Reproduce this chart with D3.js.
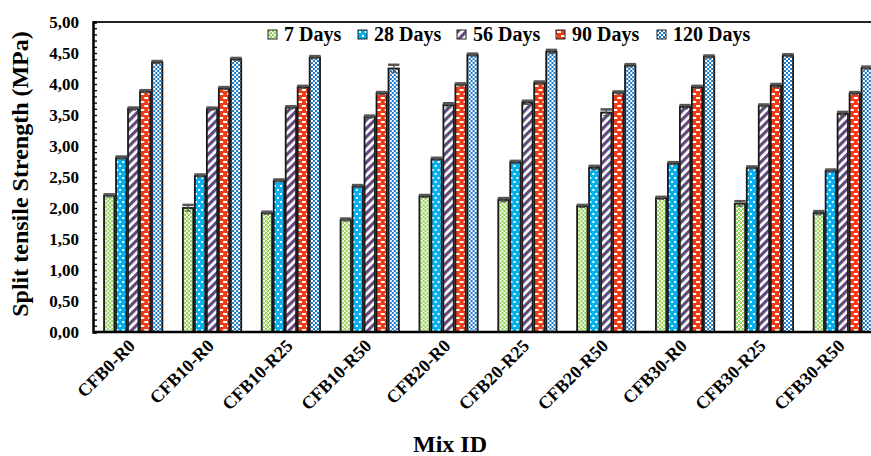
<!DOCTYPE html>
<html>
<head>
<meta charset="utf-8">
<script src="https://cdn.jsdelivr.net/npm/d3@7"></script>
<style>
  body { margin: 0; background: #fff; }
  text { font-family: "Liberation Serif", "Times New Roman", serif; font-weight: bold; }
</style>
</head>
<body>
<div id="chart"></div>
<script>
// data
var mixes = ["CFB0-R0", "CFB10-R0", "CFB10-R25", "CFB10-R50", "CFB20-R0",
             "CFB20-R25", "CFB20-R50", "CFB30-R0", "CFB30-R25", "CFB30-R50"];
var ages = ["7 Days", "28 Days", "56 Days", "90 Days", "120 Days"];
var days7   = [2.20, 2.00, 1.92, 1.81, 2.19, 2.13, 2.03, 2.16, 2.07, 1.92];
var days28  = [2.81, 2.52, 2.44, 2.35, 2.79, 2.74, 2.65, 2.72, 2.65, 2.60];
var days56  = [3.60, 3.60, 3.62, 3.47, 3.66, 3.70, 3.54, 3.63, 3.65, 3.52];
var days90  = [3.88, 3.93, 3.95, 3.85, 3.99, 4.02, 3.86, 3.95, 3.97, 3.85];
var days120 = [4.35, 4.40, 4.43, 4.25, 4.47, 4.52, 4.30, 4.44, 4.46, 4.26];
// error bars (small)
var err7   = [0.02, 0.05, 0.02, 0.02, 0.02, 0.03, 0.02, 0.02, 0.04, 0.03];
var err28  = [0.02, 0.02, 0.02, 0.02, 0.02, 0.02, 0.03, 0.02, 0.02, 0.02];
var err56  = [0.02, 0.02, 0.02, 0.02, 0.03, 0.03, 0.05, 0.03, 0.02, 0.03];
var err90  = [0.02, 0.02, 0.02, 0.02, 0.02, 0.02, 0.02, 0.02, 0.03, 0.02];
var err120 = [0.02, 0.02, 0.02, 0.06, 0.02, 0.03, 0.02, 0.02, 0.02, 0.02];
var yTicks = [0, 0.5, 1, 1.5, 2, 2.5, 3, 3.5, 4, 4.5, 5];

var series = [days7, days28, days56, days90, days120];
var errors = [err7, err28, err56, err90, err120];
var patIds = ["p7", "p28", "p56", "p90", "p120"];

var width = 871, height = 456;
var margin = {top: 22, left: 93, bottom: 332};

var svg = d3.select("#chart").append("svg")
    .attr("width", width)
    .attr("height", height);

// fill patterns like the excel ones
var defs = svg.append("defs");

var p = defs.append("pattern").attr("id", "p7").attr("patternUnits", "userSpaceOnUse")
    .attr("width", 4).attr("height", 4);
p.append("rect").attr("width", 4).attr("height", 4).attr("fill", "#fff");
p.append("rect").attr("x", 0).attr("y", 0).attr("width", 2).attr("height", 2).attr("fill", "#92D050");
p.append("rect").attr("x", 2).attr("y", 2).attr("width", 2).attr("height", 2).attr("fill", "#92D050");
p.append("rect").attr("x", 1).attr("y", 1).attr("width", 2).attr("height", 2).attr("fill", "#b5e08a");

p = defs.append("pattern").attr("id", "p28").attr("patternUnits", "userSpaceOnUse")
    .attr("width", 6).attr("height", 8);
p.append("rect").attr("width", 6).attr("height", 8).attr("fill", "#00B0F0");
p.append("rect").attr("x", 1).attr("y", 1).attr("width", 2).attr("height", 2).attr("fill", "#fff");
p.append("rect").attr("x", 4).attr("y", 5).attr("width", 2).attr("height", 2).attr("fill", "#fff");

p = defs.append("pattern").attr("id", "p56").attr("patternUnits", "userSpaceOnUse")
    .attr("width", 6).attr("height", 6).attr("patternTransform", "rotate(45)");
p.append("rect").attr("width", 6).attr("height", 6).attr("fill", "#fff");
p.append("rect").attr("width", 3.2).attr("height", 6).attr("fill", "#604A7B");

p = defs.append("pattern").attr("id", "p90").attr("patternUnits", "userSpaceOnUse")
    .attr("width", 8).attr("height", 8);
p.append("rect").attr("width", 8).attr("height", 8).attr("fill", "#F03C14");
p.append("rect").attr("x", 1).attr("y", 1).attr("width", 4).attr("height", 2).attr("fill", "#fff");
p.append("rect").attr("x", 5).attr("y", 5).attr("width", 4).attr("height", 2).attr("fill", "#fff");
p.append("rect").attr("x", -3).attr("y", 5).attr("width", 4).attr("height", 2).attr("fill", "#fff");

p = defs.append("pattern").attr("id", "p120").attr("patternUnits", "userSpaceOnUse")
    .attr("width", 4).attr("height", 4);
p.append("rect").attr("width", 4).attr("height", 4).attr("fill", "#fff");
p.append("rect").attr("x", 0).attr("y", 0).attr("width", 2).attr("height", 2).attr("fill", "#1878C8");
p.append("rect").attr("x", 2).attr("y", 2).attr("width", 2).attr("height", 2).attr("fill", "#1878C8");

// scales
var x = d3.scaleBand()
    .domain(mixes)
    .range([margin.left, margin.left + 790])
    .paddingInner(0.24)
    .paddingOuter(0.13);

var xAge = d3.scaleBand()
    .domain(ages)
    .range([0, x.bandwidth()]);

var y = d3.scaleLinear()
    .domain([0, 5])
    .range([margin.bottom, margin.top]);

// bars, one group per mix
for (let i = 0; i < mixes.length; i++) {
    let g = svg.append("g").attr("transform", "translate(" + x(mixes[i]) + ",0)");
    for (let j = 0; j < ages.length; j++) {
        let v = series[j][i];
        let e = errors[j][i];
        let bx = xAge(ages[j]) + 0.8;
        let bw = xAge.bandwidth() - 1.6;
        g.append("rect")
            .attr("x", bx)
            .attr("y", y(v))
            .attr("width", bw)
            .attr("height", y(0) - y(v))
            .attr("fill", "url(#" + patIds[j] + ")")
            .attr("stroke", "#1a1a1a")
            .attr("stroke-width", 1.8);
        // error bar
        let cx = bx + bw / 2;
        g.append("line")
            .attr("x1", cx).attr("x2", cx)
            .attr("y1", y(v - e)).attr("y2", y(v + e))
            .attr("stroke", "#555").attr("stroke-width", 1.5);
        g.append("line")
            .attr("x1", bx - 0.5).attr("x2", bx + bw + 0.5)
            .attr("y1", y(v + e)).attr("y2", y(v + e))
            .attr("stroke", "#555").attr("stroke-width", 2.5);
        g.append("line")
            .attr("x1", cx - 3).attr("x2", cx + 3)
            .attr("y1", y(v - e)).attr("y2", y(v - e))
            .attr("stroke", "#555").attr("stroke-width", 1.2);
    }
}

// frame: top line, bottom axis line
svg.append("line")
    .attr("x1", margin.left).attr("x2", width)
    .attr("y1", margin.top).attr("y2", margin.top)
    .attr("stroke", "#222").attr("stroke-width", 2);
svg.append("line")
    .attr("x1", margin.left).attr("x2", width)
    .attr("y1", margin.bottom).attr("y2", margin.bottom)
    .attr("stroke", "#000").attr("stroke-width", 2.5);

// y axis with inward minor ticks
var yAxis = svg.append("g")
    .attr("transform", "translate(" + margin.left + ",0)")
    .call(d3.axisRight(y)
        .tickValues(d3.range(0, 5.01, 0.1))
        .tickSize(4)
        .tickFormat(""));
yAxis.select(".domain").attr("stroke", "#000").attr("stroke-width", 2.5);
yAxis.selectAll(".tick line").attr("stroke", "#000").attr("stroke-width", 1.3);

svg.append("g").selectAll("text")
    .data(yTicks)
    .enter()
    .append("text")
        .attr("x", 79)
        .attr("y", d => y(d) + 6)
        .attr("text-anchor", "end")
        .style("font-size", "17px")
        .text(d => d3.format(".2f")(d).replace(".", ","));

// x labels rotated
svg.append("g").selectAll("text")
    .data(mixes)
    .enter()
    .append("text")
        .attr("transform", d => "translate(" + (x(d) + x.bandwidth() / 2 + 3) + ",347) rotate(-45)")
        .attr("text-anchor", "end")
        .style("font-size", "18px")
        .text(d => d);

// axis titles
svg.append("text")
    .attr("transform", "translate(28,174) rotate(-90)")
    .attr("text-anchor", "middle")
    .style("font-size", "24px")
    .text("Split tensile Strength (MPa)");

svg.append("text")
    .attr("x", 450)
    .attr("y", 452)
    .attr("text-anchor", "middle")
    .style("font-size", "24px")
    .text("Mix ID");

// legend
var legendX = [268, 358, 457, 556, 657];
var legend = svg.append("g").selectAll("g")
    .data(ages)
    .enter()
    .append("g")
        .attr("transform", (d, i) => "translate(" + legendX[i] + ",30)");
legend.append("rect")
    .attr("width", 9).attr("height", 9)
    .attr("fill", (d, i) => "url(#" + patIds[i] + ")")
    .attr("stroke", "#222").attr("stroke-width", 1);
legend.append("text")
    .attr("x", 16)
    .attr("y", 11)
    .style("font-size", "20px")
    .text(d => d);
</script>
</body>
</html>
